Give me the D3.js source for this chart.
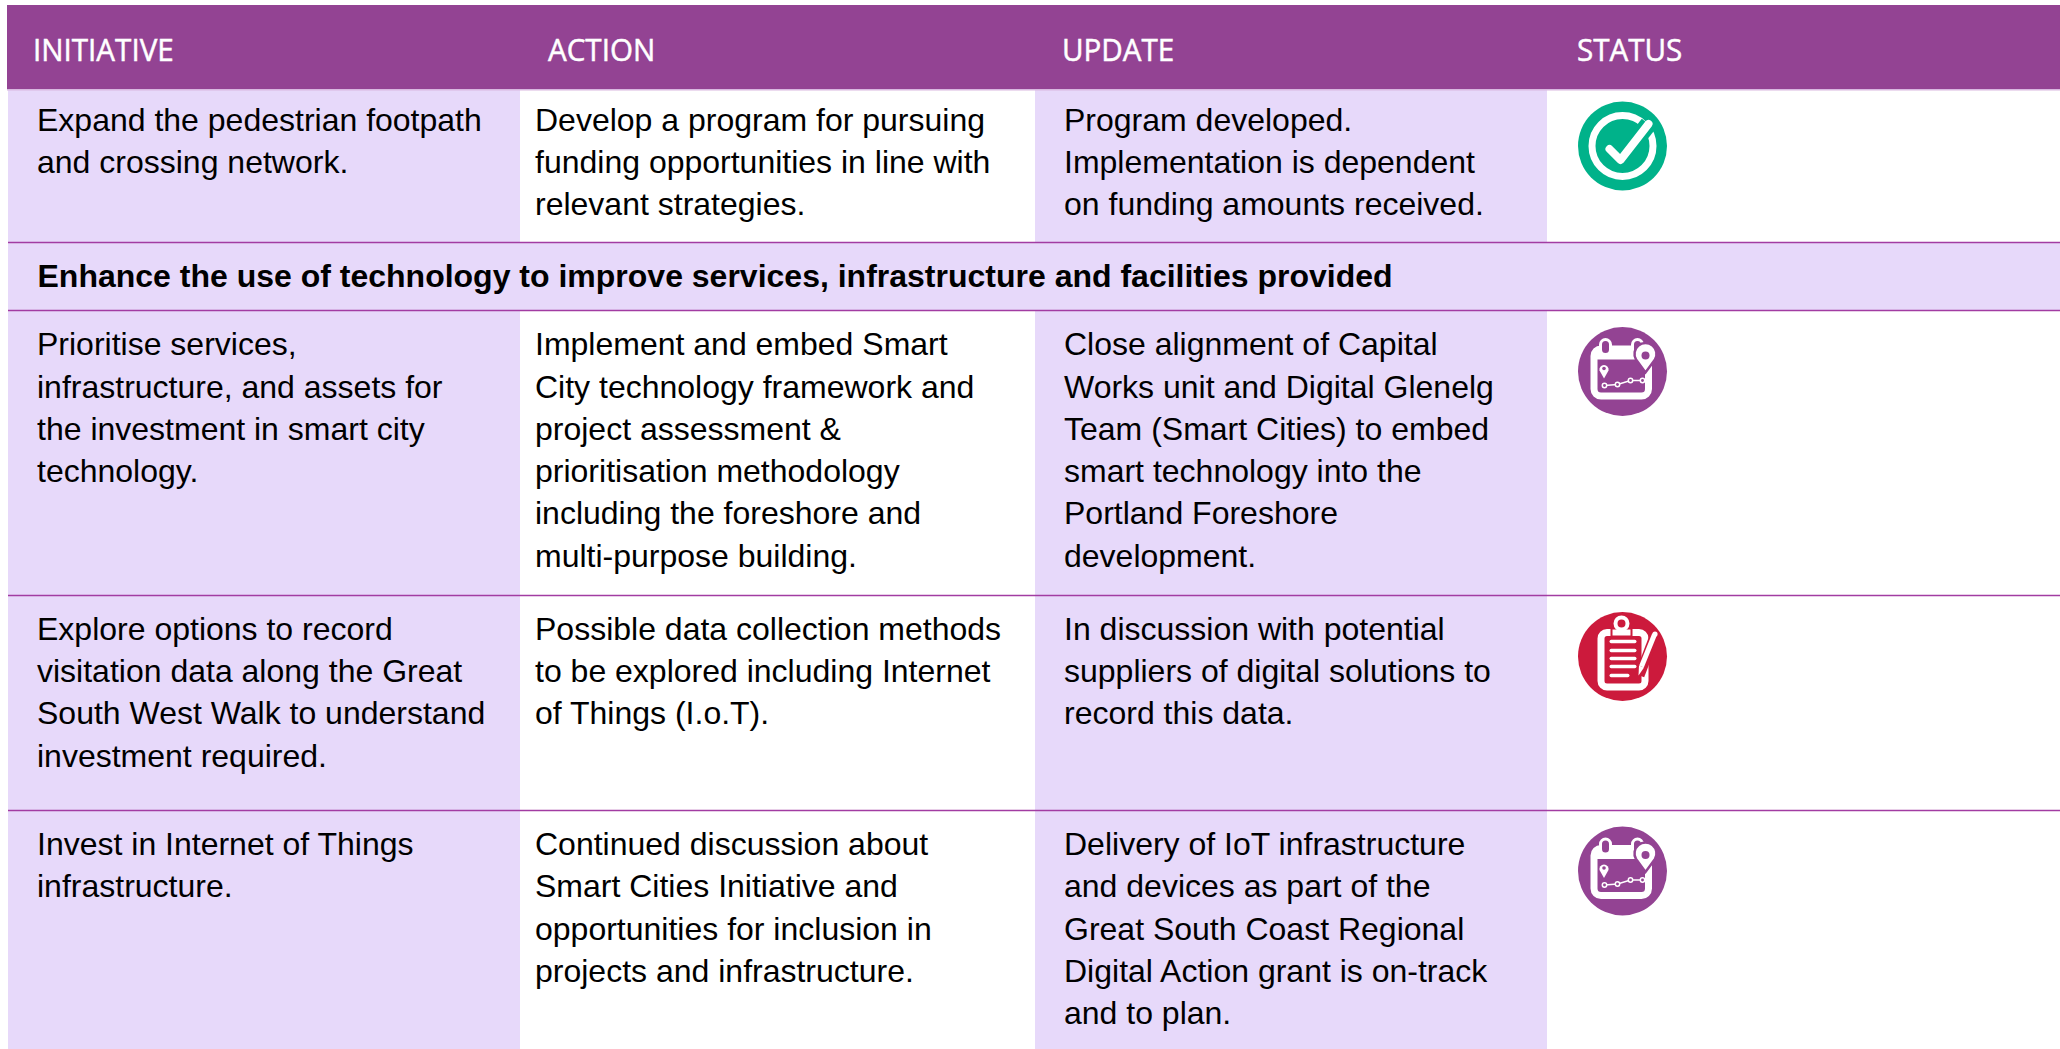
<!DOCTYPE html>
<html>
<head>
<meta charset="utf-8">
<script src="https://cdn.jsdelivr.net/npm/d3@7"></script>
<style>
  html, body { margin: 0; padding: 0; background: #fff; overflow: hidden; }
  svg { display: block; }
  .body-text { font-family: "Liberation Sans", Arial, sans-serif; font-size: 32px; fill: #000; }
  .group-text { font-family: "Liberation Sans", Arial, sans-serif; font-size: 32px; font-weight: bold; fill: #000; }
  .head-text { font-family: "Open Sans", sans-serif; font-size: 31px; fill: #fff; stroke: #fff; stroke-width: 0.5px; }
</style>
</head>
<body>
<div id="table"></div>
<script>
// Table content
const columns = ["INITIATIVE", "ACTION", "UPDATE", "STATUS"];
const groupTitle = "Enhance the use of technology to improve services, infrastructure and facilities provided";

const initiatives = [
  ["Expand the pedestrian footpath", "and crossing network."],
  ["Prioritise services,", "infrastructure, and assets for", "the investment in smart city", "technology."],
  ["Explore options to record", "visitation data along the Great", "South West Walk to understand", "investment required."],
  ["Invest in Internet of Things", "infrastructure."]
];
const actions = [
  ["Develop a program for pursuing", "funding opportunities in line with", "relevant strategies."],
  ["Implement and embed Smart", "City technology framework and", "project assessment &", "prioritisation methodology", "including the foreshore and", "multi-purpose building."],
  ["Possible data collection methods", "to be explored including Internet", "of Things (I.o.T)."],
  ["Continued discussion about", "Smart Cities Initiative and", "opportunities for inclusion in", "projects and infrastructure."]
];
const updates = [
  ["Program developed.", "Implementation is dependent", "on funding amounts received."],
  ["Close alignment of Capital", "Works unit and Digital Glenelg", "Team (Smart Cities) to embed", "smart technology into the", "Portland Foreshore", "development."],
  ["In discussion with potential", "suppliers of digital solutions to", "record this data."],
  ["Delivery of IoT infrastructure", "and devices as part of the", "Great South Coast Regional", "Digital Action grant is on-track", "and to plan."]
];
const statuses = ["done", "planned", "review", "planned"];

const purple = "#934393";
const lilac = "#e7d9fa";
const ruleColor = "#a23ca2";
const green = "#00b28a";
const red = "#cc1a3c";

const width = 2060;
const height = 1049;

// Layout: left edges of the columns and top edges of the rows
const columnEdges = [8, 520, 1035, 1547, width];
const rowTops = [89, 310, 595, 810];
const rowBottoms = [242, 595, 810, height];
const firstBaseline = [131, 355.4, 640, 855];
const lineSteps = [42, 42.25, 42.2, 42.25];
const iconY = [146, 371.5, 656.5, 871];
const iconX = 1622.5;

const svg = d3.select("#table")
  .append("svg")
    .attr("width", width)
    .attr("height", height)
    .attr("viewBox", `0, 0, ${width}, ${height}`);

/*****************************/
/*     Shaded columns        */
/*****************************/
[0, 2].forEach(col => {
  svg.append("g")
    .selectAll("rect")
    .data(rowTops)
    .join("rect")
      .attr("x", columnEdges[col])
      .attr("y", d => d)
      .attr("width", columnEdges[col + 1] - columnEdges[col])
      .attr("height", (d, i) => rowBottoms[i] - d)
      .attr("fill", lilac);
});

// Group title band
svg.append("rect")
  .attr("x", columnEdges[0])
  .attr("y", 242)
  .attr("width", width - columnEdges[0])
  .attr("height", 68)
  .attr("fill", lilac);

svg.append("text")
  .attr("class", "group-text")
  .attr("x", 37.5)
  .attr("y", 287)
  .text(groupTitle);

/*****************************/
/*     Header                */
/*****************************/
svg.append("rect")
  .attr("x", 7)
  .attr("y", 5)
  .attr("width", width - 7)
  .attr("height", 84)
  .attr("fill", purple);

svg.append("rect")
  .attr("x", 7)
  .attr("y", 89)
  .attr("width", width - 7)
  .attr("height", 1.5)
  .attr("fill", "#d9b8e0");

svg.selectAll(".head-text")
  .data(columns)
  .join("text")
    .attr("class", "head-text")
    .attr("transform", (d, i) => `translate(${[33, 548, 1062, 1577][i]}, 61) scale(0.955, 1)`)
    .text(d => d);

/*****************************/
/*     Row rules             */
/*****************************/
svg.selectAll(".rule")
  .data([242, 310, 595, 810])
  .join("line")
    .attr("class", "rule")
    .attr("x1", columnEdges[0])
    .attr("x2", width)
    .attr("y1", d => d + 0.5)
    .attr("y2", d => d + 0.5)
    .attr("stroke", ruleColor)
    .attr("stroke-width", 1.3);

/*****************************/
/*     Cell text             */
/*****************************/
[initiatives, actions, updates].forEach((cells, col) => {
  cells.forEach((cellLines, row) => {
    svg.append("g")
      .selectAll("text")
      .data(cellLines)
      .join("text")
        .attr("class", "body-text")
        .attr("x", [37, 535, 1064][col])
        .attr("y", (d, i) => firstBaseline[row] + i * lineSteps[row])
        .text(d => d);
  });
});

/*****************************/
/*     Status icons          */
/*****************************/
const drawDone = g => {
  g.append("circle").attr("r", 44.5).attr("fill", green);
  g.append("circle").attr("r", 30.5).attr("fill", "none").attr("stroke", "#fff").attr("stroke-width", 7);
  g.append("path").attr("d", "M-2,14L26,-22").attr("stroke", green).attr("stroke-width", 17).attr("fill", "none");
  g.append("path").attr("d", "M-13,3L-2,14L26,-22")
    .attr("stroke", "#fff").attr("stroke-width", 8)
    .attr("stroke-linecap", "round").attr("stroke-linejoin", "round").attr("fill", "none");
};

const drawPlanned = g => {
  g.append("circle").attr("r", 44.5).attr("fill", purple);
  // calendar body and top band
  g.append("rect").attr("x", -28.5).attr("y", -22.5).attr("width", 54.5).attr("height", 47).attr("rx", 7)
    .attr("fill", purple).attr("stroke", "#fff").attr("stroke-width", 7);
  g.append("rect").attr("x", -26).attr("y", -23).attr("width", 50).attr("height", 11).attr("fill", "#fff");
  // binder rings
  [-17, 15].forEach(x => {
    g.append("rect").attr("x", x - 5).attr("y", -32).attr("width", 10).attr("height", 15).attr("rx", 5)
      .attr("fill", purple).attr("stroke", "#fff").attr("stroke-width", 3);
  });
  // big pin
  g.append("path").attr("d", "M23,1L13.5,-12A11,11 0 1 1 32.5,-12Z")
    .attr("fill", "#fff").attr("stroke", purple).attr("stroke-width", 2.5);
  g.append("circle").attr("cx", 23).attr("cy", -16).attr("r", 4).attr("fill", purple);
  // small pin
  g.append("path").attr("d", "M-18.5,7L-23,-1A4.6,4.6 0 1 1 -14,-1Z").attr("fill", "#fff");
  g.append("circle").attr("cx", -18.5).attr("cy", -3).attr("r", 1.8).attr("fill", purple);
  // route
  const route = [[-18, 14], [-5, 13], [8, 9], [20, 9]];
  g.append("path").attr("d", d3.line()(route)).attr("stroke", "#fff").attr("stroke-width", 1.5).attr("fill", "none");
  g.selectAll(".stop").data(route).join("circle")
    .attr("class", "stop").attr("cx", d => d[0]).attr("cy", d => d[1]).attr("r", 2.2)
    .attr("fill", purple).attr("stroke", "#fff").attr("stroke-width", 1.5);
};

const drawReview = g => {
  g.append("circle").attr("r", 44.5).attr("fill", red);
  // board
  g.append("rect").attr("x", -21.5).attr("y", -24).attr("width", 44).attr("height", 54.5).attr("rx", 6)
    .attr("fill", red).attr("stroke", "#fff").attr("stroke-width", 7);
  // clip
  g.append("path").attr("d", "M-11,-28H9V-20H-11Z").attr("fill", "#fff").attr("stroke", red).attr("stroke-width", 2);
  g.append("circle").attr("cx", -1).attr("cy", -33).attr("r", 6).attr("fill", red).attr("stroke", "#fff").attr("stroke-width", 4);
  // written lines
  [[-15, 27], [-6, 27], [2, 27], [10, 27], [19, 20]].forEach(d => {
    g.append("rect").attr("x", -13).attr("y", d[0] - 1.7).attr("width", d[1]).attr("height", 3.4).attr("rx", 1.7).attr("fill", "#fff");
  });
  // pencil
  g.append("path").attr("d", "M33,-23L17,19").attr("stroke", red).attr("stroke-width", 10).attr("fill", "none");
  g.append("path").attr("d", "M32,-22L19,10").attr("stroke", "#fff").attr("stroke-width", 5).attr("fill", "none");
  g.append("path").attr("d", "M16.5,9L21.5,11L16,19Z").attr("fill", "#fff");
  g.append("circle").attr("cx", 32.5).attr("cy", -22.5).attr("r", 2.6).attr("fill", "#fff");
};

const iconDrawers = { done: drawDone, planned: drawPlanned, review: drawReview };

statuses.forEach((status, row) => {
  const g = svg.append("g").attr("transform", `translate(${iconX}, ${iconY[row]})`);
  iconDrawers[status](g);
});
</script>
</body>
</html>
